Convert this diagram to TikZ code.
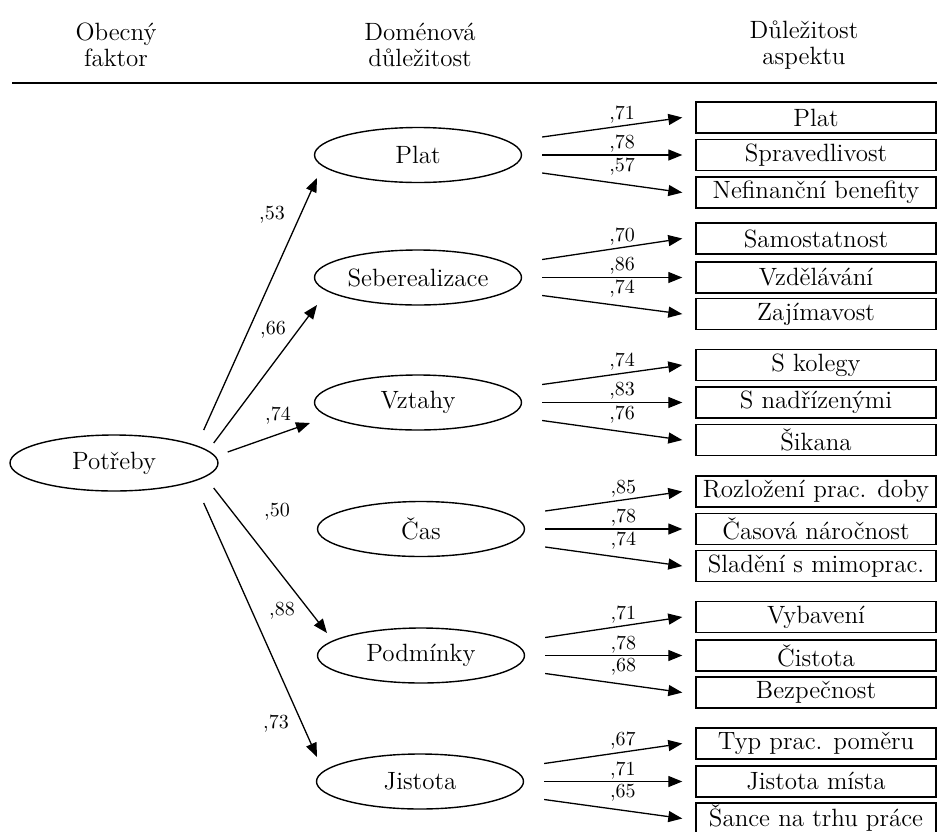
\documentclass[tikz,border=0pt]{standalone}
\usetikzlibrary{arrows.meta,shapes.geometric}

\tikzset{
  every node/.style={font=\fontsize{12.5}{13}\selectfont},
  heading/.style={align=center, font=\fontsize{12.5}{13}\selectfont},
  factornode/.style={ellipse, draw, line width=0.7pt, minimum width=104pt,
    minimum height=28pt, inner sep=0pt},
  domnode/.style={ellipse, draw, line width=0.7pt, minimum width=103.5pt,
    minimum height=27.5pt, inner sep=0pt},
  aspectbox/.style={rectangle, draw, line width=0.7pt, minimum width=120pt,
    minimum height=15.5pt, inner sep=0pt},
  conn/.style={line width=0.65pt, -{Triangle[length=7pt,width=5.5pt]}},
  coef/.style={font=\fontsize{10}{11}\selectfont, inner sep=1pt},
}

\begin{document}
\begin{tikzpicture}[x=0.5pt, y=-0.5pt]
\useasboundingbox (0,0) rectangle (937,831);
\clip (0,0) rectangle (937,831);

% column headings and rule
\node[heading] (h1) at (116,45) {Obecný\\faktor};
\node[heading] (h2) at (420,45) {Doménová\\důležitost};
\node[heading] (h3) at (804,45) {Důležitost\\aspektu};
\draw[line width=1.3pt] (12,83) -- (937,83);

% general factor
\node[factornode] (pot) at (114,463) {Potřeby};

% domains
\node[domnode] (plat) at (418,155)   {Plat};
\node[domnode] (sebe) at (418,277.5) {Seberealizace};
\node[domnode] (vzt)  at (418,402.5) {Vztahy};
\node[domnode] (cas)  at (421,529)   {Čas};
\node[domnode] (podm) at (421,655.5) {Podmínky};
\node[domnode] (jist) at (420,781.5) {Jistota};

% aspects
\node[aspectbox] (b11) at (816,117.5) {Plat};
\node[aspectbox] (b12) at (816,155)   {Spravedlivost};
\node[aspectbox] (b13) at (816,192.5) {Nefinanční benefity};

\node[aspectbox] (b21) at (816,238.5) {Samostatnost};
\node[aspectbox] (b22) at (816,277.5) {Vzdělávání};
\node[aspectbox] (b23) at (816,314)   {Zajímavost};

\node[aspectbox] (b31) at (816,365)   {S kolegy};
\node[aspectbox] (b32) at (816,402.5) {S nadřízenými};
\node[aspectbox] (b33) at (816,440)   {Šikana};

\node[aspectbox] (b41) at (816,491.5) {Rozložení prac. doby};
\node[aspectbox] (b42) at (816,529)   {Časová náročnost};
\node[aspectbox] (b43) at (816,566)   {Sladění s mimoprac.};

\node[aspectbox] (b51) at (816,617)   {Vybavení};
\node[aspectbox] (b52) at (816,655.5) {Čistota};
\node[aspectbox] (b53) at (816,692.5) {Bezpečnost};

\node[aspectbox] (b61) at (816,743.5) {Typ prac. poměru};
\node[aspectbox] (b62) at (816,781.5) {Jistota místa};
\node[aspectbox] (b63) at (816,818.5) {Šance na trhu práce};

% loadings of the domains on the general factor
\draw[conn] ([shift={(-15,-33)}]pot.east) -- ([shift={(-101,23)}]plat.center);
\draw[conn] ([shift={(-5,-20)}]pot.east)  -- ([shift={(-101,27.5)}]sebe.center);
\draw[conn] ([shift={(9,-11)}]pot.east)   -- ([shift={(-108,20.5)}]vzt.center);
\draw[conn] ([shift={(-5,25)}]pot.east)   -- ([shift={(-94,-22.5)}]podm.center);
\draw[conn] ([shift={(-15,40)}]pot.east)  -- ([shift={(-103,-24.5)}]jist.center);

\node[coef] (l1) at (272,215) {,53};
\node[coef] (l2) at (273,330) {,66};
\node[coef] (l3) at (278,416) {,74};
\node[coef] (l4) at (277,512) {,50};
\node[coef] (l5) at (282,611) {,88};
\node[coef] (l6) at (276,724) {,73};

% loadings of the aspects on their domains
\foreach \d/\g/\a/\b/\c in {plat/1/71/78/57, sebe/2/70/86/74,
    vzt/3/74/83/76, cas/4/85/78/74, podm/5/71/78/68,
    jist/6/67/71/65}{
  \draw[conn] ([shift={(20,-18)}]\d.east) -- ([xshift=-6.5pt]b\g1.west)
    node[coef, pos=0.57, above] (w\g1) {,\a};
  \draw[conn] ([xshift=10pt]\d.east) -- ([xshift=-6.5pt]b\g2.west)
    node[coef, pos=0.57, above] (w\g2) {,\b};
  \draw[conn] ([shift={(20,18)}]\d.east) -- ([xshift=-6.5pt]b\g3.west)
    node[coef, pos=0.57, above, yshift=3pt] (w\g3) {,\c};
}
\end{tikzpicture}
\end{document}
